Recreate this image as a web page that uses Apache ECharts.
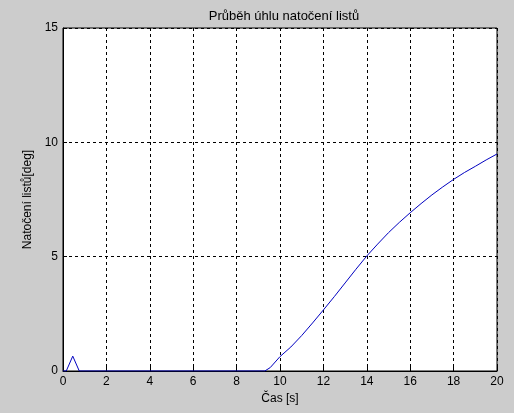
<!DOCTYPE html>
<html>
<head>
<meta charset="utf-8">
<script src="https://cdn.jsdelivr.net/npm/echarts@6/dist/echarts.min.js"></script>
<style>
  html, body { margin: 0; padding: 0; background: #cccccc; }
  #chart { width: 514px; height: 413px; }
</style>
</head>
<body>
<div id="chart"></div>
<script>
// time [s] and blade angle [deg]
var timeValues  = [0, 0.15, 0.45, 0.75, 9.3, 9.55, 10, 10.5, 11, 11.5, 12, 12.5, 13, 13.5, 14, 14.5, 15, 15.5, 16, 16.5, 17, 17.5, 18, 18.5, 19, 19.5, 20];
var angleValues = [0, 0, 0.65, 0, 0, 0.15, 0.63, 1.05, 1.55, 2.1, 2.67, 3.25, 3.85, 4.45, 5.03, 5.55, 6.05, 6.5, 6.92, 7.32, 7.7, 8.05, 8.38, 8.68, 8.95, 9.23, 9.49];

var xTicks = [0, 2, 4, 6, 8, 10, 12, 14, 16, 18, 20];
var yTicks = [0, 5, 10, 15];

var font = 'Liberation Sans, Arial, sans-serif';

var chart = echarts.init(document.getElementById('chart'));

var points = timeValues.map(function (t, i) {
    return [t, angleValues[i]];
});

chart.setOption({
    backgroundColor: '#cccccc',
    animation: false,
    title: {
        text: 'Průběh úhlu natočení listů',
        left: 279,
        top: 5,
        textAlign: 'center',
        textStyle: { fontFamily: font, fontSize: 13, fontWeight: 'normal', color: '#000' }
    },
    grid: {
        left: 63, right: 17, top: 28, bottom: 42,
        show: true,
        backgroundColor: '#ffffff',
        borderColor: '#000',
        borderWidth: 1
    },
    xAxis: {
        type: 'value',
        min: xTicks[0],
        max: xTicks[xTicks.length - 1],
        interval: 2,
        name: 'Čas [s]',
        nameLocation: 'middle',
        nameGap: 22,
        nameTextStyle: { fontFamily: font, fontSize: 12, color: '#000' },
        axisLine: { lineStyle: { color: '#000' } },
        axisTick: { inside: true, length: 4, lineStyle: { color: '#000' } },
        axisLabel: { fontFamily: font, fontSize: 12, color: '#000', margin: 5 },
        splitLine: { show: true, lineStyle: { color: '#000', type: [3, 3] } }
    },
    yAxis: {
        type: 'value',
        min: yTicks[0],
        max: yTicks[yTicks.length - 1],
        interval: 5,
        name: 'Natočení listů[deg]',
        nameLocation: 'middle',
        nameGap: 26,
        nameTextStyle: { fontFamily: font, fontSize: 12, color: '#000' },
        axisLine: { show: true, lineStyle: { color: '#000' } },
        axisTick: { show: true, inside: true, length: 4, lineStyle: { color: '#000' } },
        axisLabel: { fontFamily: font, fontSize: 12, color: '#000', margin: 5 },
        splitLine: { show: true, lineStyle: { color: '#000', type: [3, 3] } }
    },
    series: [{
        type: 'line',
        data: points,
        showSymbol: false,
        lineStyle: { color: '#0000c0', width: 1 }
    }]
});
</script>
</body>
</html>
